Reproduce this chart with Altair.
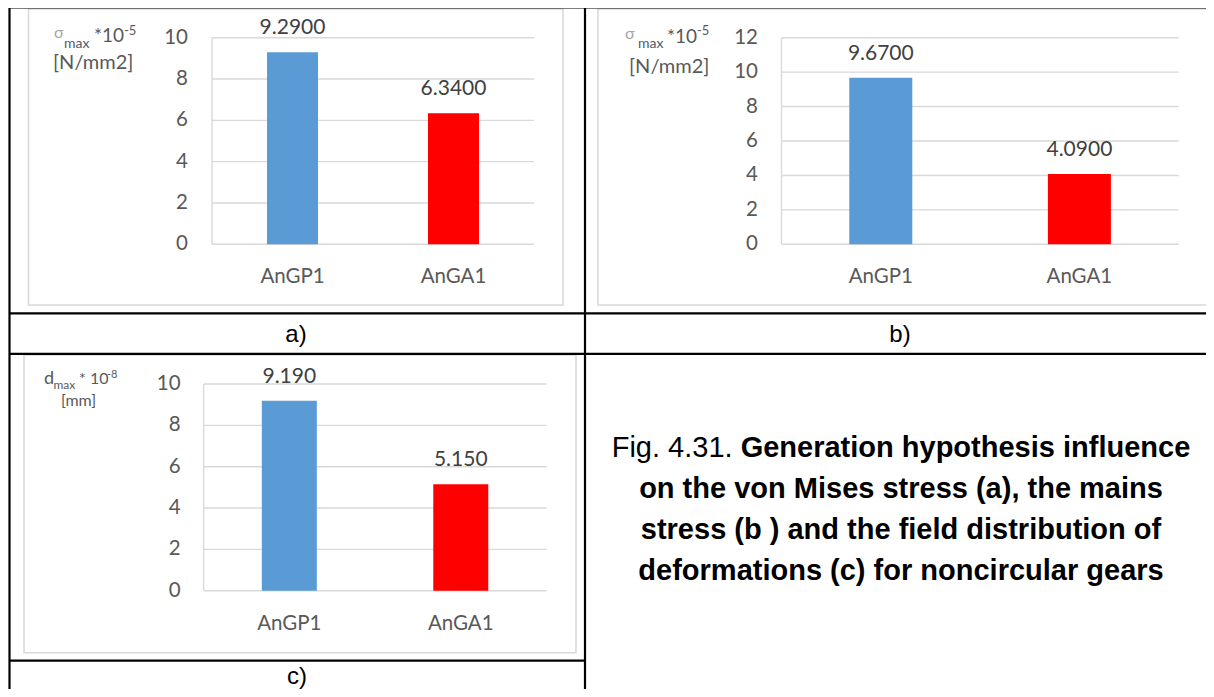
import altair as alt
import pandas as pd

# ---------------- data ----------------
categories = ["AnGP1", "AnGA1"]
bar_colors = ["#5B9BD5", "#FF0000"]
values_a = [9.29, 6.34]     # von Mises stress  (sigma_max * 10^-5 N/mm2)
values_b = [9.67, 4.09]     # main stress       (sigma_max * 10^-5 N/mm2)
values_c = [9.19, 5.15]     # deformations      (d_max * 10^-8 mm)
ticks_a = [0, 2, 4, 6, 8, 10]
ticks_b = [0, 2, 4, 6, 8, 10, 12]
ticks_c = [0, 2, 4, 6, 8, 10]
panel_labels = ["a)", "b)", "c)"]
caption_prefix = "Fig. 4.31."
caption_lines = [
    "Generation hypothesis influence",
    "on the von Mises stress (a), the mains",
    "stress (b ) and the field distribution of",
    "deformations (c) for noncircular gears",
]

# ---------------- styles ----------------
OFF = 8  # page margin
W, H = 1198, 681
FONT = "Lato"
SANS = "Liberation Sans"
GRID = "#D9D9D9"
TXT = "#595959"
VAL = "#404040"


def px(v):
    return v - OFF


def panel(values, ticks, fmt, x0, x1, ytop, ybot, barw, tick_x, cat_y):
    ymax = ticks[-1]
    xs = alt.Scale(domain=categories, range=[px(x0), px(x1)], paddingInner=0, paddingOuter=0)
    ys = alt.Scale(domain=[0, ymax], range=[px(ybot), px(ytop)], nice=False, zero=False)
    bars_df = pd.DataFrame({"cat": categories, "val": values, "color": bar_colors})
    ticks_df = pd.DataFrame({"v": ticks})
    X = alt.X("cat:N", scale=xs, axis=None)
    Y = alt.Y("val:Q", scale=ys, axis=None)
    YT = alt.Y("v:Q", scale=ys, axis=None)
    grid = alt.Chart(ticks_df).mark_rule(color=GRID, strokeWidth=1.4).encode(
        y=YT, x=alt.value(px(x0)), x2=alt.value(px(x1)))
    yaxis = alt.Chart(ticks_df).mark_rule(color=GRID, strokeWidth=1.4).encode(
        x=alt.value(px(x0)),
        y=alt.Y("min(v):Q", scale=ys, axis=None),
        y2=alt.Y2("max(v):Q"))
    bars = alt.Chart(bars_df).mark_bar(width=barw).encode(
        x=X, y=Y, color=alt.Color("color:N", scale=None))
    vlabels = alt.Chart(bars_df).mark_text(
        font=FONT, fontSize=21, color=VAL, dy=-18, baseline="alphabetic").encode(
        x=X, y=Y, text=alt.Text("val:Q", format=fmt))
    tlabels = alt.Chart(ticks_df).mark_text(
        font=FONT, fontSize=20.5, color=TXT, align="right", baseline="middle").encode(
        y=YT, x=alt.value(px(tick_x)), text=alt.Text("v:Q"))
    clabels = alt.Chart(bars_df).mark_text(
        font=FONT, fontSize=20.5, color=TXT, baseline="alphabetic").encode(
        x=X, y=alt.value(px(cat_y)), text="cat:N")
    return alt.layer(grid, yaxis, bars, vlabels, tlabels, clabels)


pa = panel(values_a, ticks_a, ".4f", 212, 534, 37.7, 244.3, 51, 188, 283)
pb = panel(values_b, ticks_b, ".4f", 781.5, 1178.7, 37.7, 244.3, 63, 758, 283)
pc = panel(values_c, ticks_c, ".3f", 203.6, 546.5, 384, 590.7, 55, 180.6, 630)

# ---------------- table and frames ----------------
lines_df = pd.DataFrame({
    "x": [9.5, 9.5, 585, 9.5, 9.5, 9.5],
    "x2": [1214, 9.5, 585, 1214, 1214, 585],
    "y": [7.5, 7.5, 7.5, 313.3, 353.8, 660.7],
    "y2": [7.5, 697, 697, 313.3, 353.8, 660.7],
})
for c in lines_df.columns:
    lines_df[c] = lines_df[c] - OFF
table = alt.Chart(lines_df).mark_rule(color="black", strokeWidth=2.2).encode(
    x=alt.X("x:Q", scale=None), x2="x2:Q", y=alt.Y("y:Q", scale=None), y2="y2:Q")

frames_df = pd.DataFrame({
    "x": [28.5, 598, 24], "x2": [563, 1209, 576],
    "y": [9, 9, 355], "y2": [305, 305, 652.7],
})
for c in frames_df.columns:
    frames_df[c] = frames_df[c] - OFF
frames = alt.Chart(frames_df).mark_rect(fill="white", stroke=GRID, strokeWidth=1.6).encode(
    x=alt.X("x:Q", scale=None), x2="x2:Q", y=alt.Y("y:Q", scale=None), y2="y2:Q")

# ---------------- axis titles ----------------
yt_df = pd.DataFrame([
    # panel a
    ("σ", 54, 38, 16, "#A6A6A6"),
    ("max", 64, 47.5, 14, TXT),
    ("*10", 94, 42, 19, TXT),
    ("-5", 124, 35, 13, TXT),
    ("[N/mm2]", 53, 68.5, 20, TXT),
    # panel b
    ("σ", 625, 38.5, 16, "#A6A6A6"),
    ("max", 638, 47.5, 14, TXT),
    ("*10", 667, 42.5, 19, TXT),
    ("-5", 697, 35, 13, TXT),
    ("[N/mm2]", 629, 72.5, 20, TXT),
    # panel c
    ("d", 44, 383.5, 18, TXT),
    ("max", 53.5, 388.5, 12, TXT),
    ("* 10", 79, 384, 16, TXT),
    ("-8", 107, 378, 11, TXT),
    ("[mm]", 61, 406, 16, TXT),
], columns=["t", "x", "y", "s", "c"])
yt_df["x"] = yt_df["x"] - OFF
yt_df["y"] = yt_df["y"] - OFF
ytitles = alt.Chart(yt_df).mark_text(font=FONT, align="left", baseline="alphabetic").encode(
    x=alt.X("x:Q", scale=None), y=alt.Y("y:Q", scale=None),
    size=alt.Size("s:Q", scale=None), color=alt.Color("c:N", scale=None), text="t:N")

# ---------------- panel labels ----------------
pl_df = pd.DataFrame({"t": panel_labels, "x": [296, 900, 297], "y": [342, 342, 684]})
pl_df["x"] = pl_df["x"] - OFF
pl_df["y"] = pl_df["y"] - OFF
plabels = alt.Chart(pl_df).mark_text(font=SANS, fontSize=24, color="black", baseline="alphabetic").encode(
    x=alt.X("x:Q", scale=None), y=alt.Y("y:Q", scale=None), text="t:N")

# ---------------- caption ----------------
CAP = 29
CX = 901
w_prefix = 4.447 * CAP          # Arial width of "Fig. 4.31. "
w_first = 15.504 * CAP          # Arial Bold width of first bold line
start = CX - (w_prefix + w_first) / 2
baselines = [457, 498, 539, 580]

cap_reg_df = pd.DataFrame({"t": [caption_prefix], "x": [start - OFF], "y": [baselines[0] - OFF]})
cap_reg = alt.Chart(cap_reg_df).mark_text(
    font=SANS, fontSize=CAP, color="black", align="left", baseline="alphabetic").encode(
    x=alt.X("x:Q", scale=None), y=alt.Y("y:Q", scale=None), text="t:N")

cap_b1_df = pd.DataFrame({"t": [caption_lines[0]], "x": [start + w_prefix - OFF], "y": [baselines[0] - OFF]})
cap_b1 = alt.Chart(cap_b1_df).mark_text(
    font=SANS, fontSize=CAP, fontWeight="bold", color="black", align="left", baseline="alphabetic").encode(
    x=alt.X("x:Q", scale=None), y=alt.Y("y:Q", scale=None), text="t:N")

cap_rest_df = pd.DataFrame({"t": caption_lines[1:], "x": [CX - OFF] * 3, "y": [b - OFF for b in baselines[1:]]})
cap_rest = alt.Chart(cap_rest_df).mark_text(
    font=SANS, fontSize=CAP, fontWeight="bold", color="black", align="center", baseline="alphabetic").encode(
    x=alt.X("x:Q", scale=None), y=alt.Y("y:Q", scale=None), text="t:N")

chart = alt.layer(
    frames, table, pa, pb, pc, ytitles, plabels, cap_reg, cap_b1, cap_rest
).resolve_scale(
    x="independent", y="independent", color="independent", size="independent"
).properties(
    width=W, height=H, autosize=alt.AutoSizeParams(type="none"), padding=0, background="white"
).configure_view(stroke=None)

chart.save("out.html", embed_options={"renderer": "svg", "actions": False})
